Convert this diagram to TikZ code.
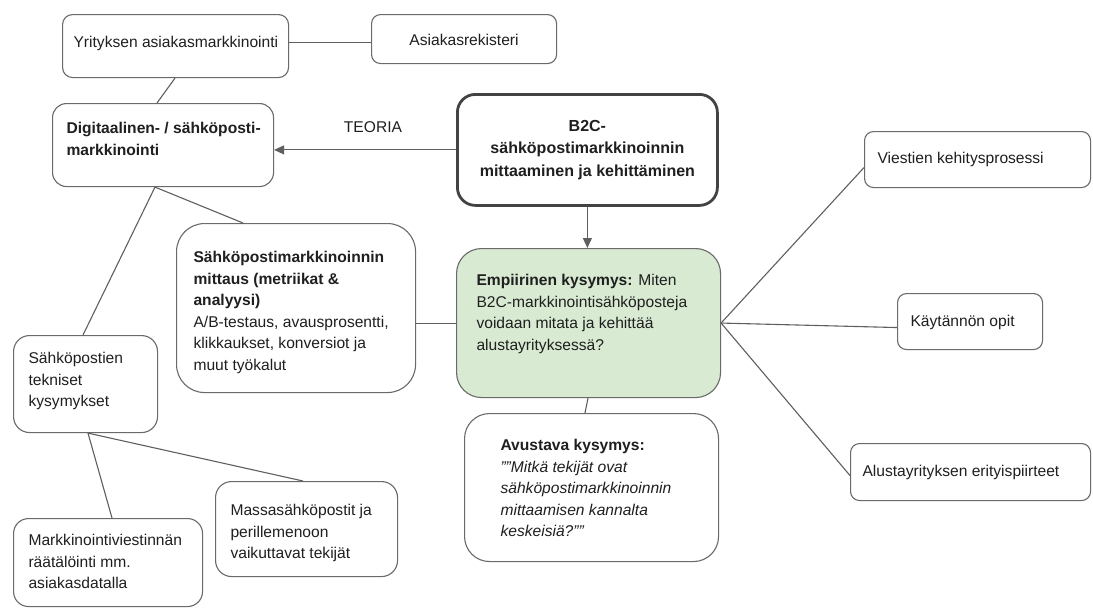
\documentclass[tikz,border=0pt]{standalone}
\usepackage{fontspec}
\setmainfont{Liberation Sans}
\usetikzlibrary{arrows.meta,calc}
\definecolor{lncol}{HTML}{5F5F5F}
\definecolor{bdcol}{HTML}{6A6A6A}
\definecolor{dkcol}{HTML}{434343}
\definecolor{grcol}{HTML}{D9EAD3}
\definecolor{txcol}{HTML}{1F1F1F}
\newcommand\bxL[5]{\parbox[c][#2pt][t]{#1pt}{\raggedright\setlength\leftskip{#3pt}\vspace*{#4pt}\strut #5}}
\newcommand\bxC[4]{\parbox[c][#2pt][t]{#1pt}{\centering\vspace*{#3pt}\strut #4}}
\begin{document}
\begin{tikzpicture}[x=1pt,y=-1pt,
  every node/.style={font=\fontsize{15.6}{21.5}\selectfont, text=txcol},
  bx/.style={draw=bdcol, line width=1.1pt, fill=white, inner sep=0pt, anchor=north west, rounded corners=#1},
  cn/.style={draw=lncol, line width=1.1pt},
  arr/.style={-{Triangle[length=10pt,width=9pt]}}]
\fill[white] (0,0) rectangle (1093,608);
\useasboundingbox (0,0) rectangle (1093,608);

\node[bx=10pt] (yr) at (62,14) {\bxL{226}{63}{11}{18}{Yrityksen asiakasmarkkinointi}};
\node[bx=9pt] (ar) at (371,14) {\bxC{185}{49}{16}{Asiakasrekisteri}};
\node[bx=14pt] (dg) at (52,103) {\bxL{221}{83}{14}{15}{\bfseries Digitaalinen- / sähköposti-\\markkinointi}};
\node[bx=18pt, draw=dkcol, line width=2.8pt, font=\fontsize{16}{22.5}\selectfont] (b2c) at (456,93) {\bxC{260}{111}{21}{\bfseries B2C-\\sähköpostimarkkinoinnin\\mittaaminen ja kehittäminen}};
\node[bx=9pt] (vk) at (864,131) {\bxL{226}{56}{13}{17}{Viestien kehitysprosessi}};
\node[bx=28pt] (sm) at (176,223) {\bxL{239}{169}{17}{24}{{\bfseries Sähköpostimarkkinoinnin\\mittaus (metriikat \&\\analyysi)}\\A/B-testaus, avausprosentti,\\klikkaukset, konversiot ja\\muut työkalut}};
\node[bx=25pt, fill=grcol] (em) at (456,248) {\bxL{264}{149}{20}{22}{\textbf{Empiirinen kysymys:} Miten\\B2C-markkinointisähköposteja\\voidaan mitata ja kehittää\\alustayrityksessä?}};
\node[bx=9pt] (ko) at (897,293) {\bxL{145}{56}{13}{18}{Käytännön opit}};
\node[bx=16pt] (st) at (13,335) {\bxL{144}{97}{15}{13}{Sähköpostien\\tekniset\\kysymykset}};
\node[bx=25pt] (av) at (464,413) {\bxL{254}{148}{36}{22}{{\bfseries Avustava kysymys:}\\{\itshape ""Mitkä tekijät ovat\\sähköpostimarkkinoinnin\\mittaamisen kannalta\\keskeisiä?""}}};
\node[bx=9pt] (al) at (850,443) {\bxL{240}{57}{12}{18}{Alustayrityksen erityispiirteet}};
\node[bx=16pt] (ms) at (215,481) {\bxL{182}{95}{15}{19}{Massasähköpostit ja\\perillemenoon\\vaikuttavat tekijät}};
\node[bx=15pt] (mv) at (13,518) {\bxL{189}{88}{15}{12}{Markkinointiviestinnän\\räätälöinti mm.\\asiakasdatalla}};

\node (teoria) at (373,127) {TEORIA};

\draw[cn] ([yshift=-3.5]ar.west) -- ([yshift=-3.5]ar.west -| yr.east);
\draw[cn] ([xshift=113]yr.south west) -- ([xshift=105]dg.north west);
\draw[cn,arr] (b2c.west) -- (b2c.west -| dg.east);
\draw[cn,arr] (b2c.south) -- (b2c.south |- em.north);
\draw[cn] ([xshift=103]dg.south west) -- ([xshift=67]sm.north west);
\draw[cn] ([xshift=103]dg.south west) -- ([xshift=70]st.north west);
\draw[cn] ([yshift=-15.5]sm.east) -- ([yshift=-15.5]sm.east -| em.west);
\draw[cn] ([xshift=75]st.south west) -- ([xshift=99]mv.north west);
\draw[cn] ([xshift=75]st.south west) -- ([xshift=88]ms.north west);
\draw[cn] ([xshift=132]em.south west) -- ([xshift=121]av.north west);
\draw[cn] (em.east) -- ([yshift=-8]vk.west);
\draw[cn] (em.east) -- ([yshift=-6]ko.west);
\draw[cn] (em.east) -- ([yshift=-3.5]al.west);
\end{tikzpicture}
\end{document}
